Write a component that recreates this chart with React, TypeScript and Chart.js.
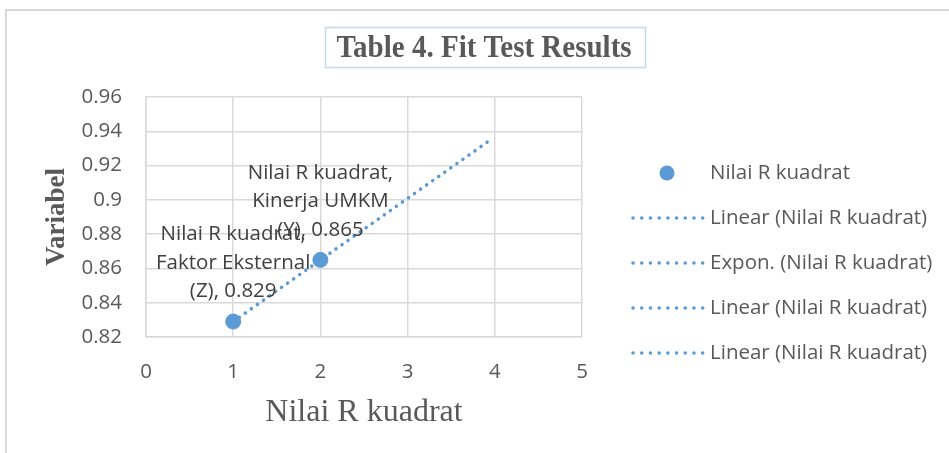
import React, { useEffect, useRef } from 'react';
import { Chart, registerables } from 'chart.js';

Chart.register(...registerables);

// ---- data ----
const pointX = [1, 2];
const pointY = [0.829, 0.865];
const pointNames = [
  ['Nilai R kuadrat,', 'Faktor Eksternal', '(Z)'],
  ['Nilai R kuadrat,', 'Kinerja UMKM', '(Y)'],
];
const trendX = [1, 3.95];
const trendY = [0.829, 0.935];
const xRange = [0, 5];
const xStep = 1;
const yRange = [0.82, 0.96];
const yStep = 0.02;
const legendLabels = [
  'Nilai R kuadrat',
  'Linear (Nilai R kuadrat)',
  'Expon. (Nilai R kuadrat)',
  'Linear (Nilai R kuadrat)',
  'Linear (Nilai R kuadrat)',
];
const chartTitle = 'Table 4. Fit Test Results';
const xTitle = 'Nilai R kuadrat';
const yTitle = 'Variabel';

const BLUE = '#5B9BD5';
const TEXT = '#595959';
const GRID = '#d9d9d9';
const SANS = "'Open Sans', 'Noto Sans', sans-serif";
const SERIF = "'Liberation Serif', 'Times New Roman', serif";

const decor = {
  id: 'decor',
  beforeDraw(chart: any) {
    const ctx = chart.ctx;
    ctx.save();
    // outer frame
    ctx.strokeStyle = GRID;
    ctx.lineWidth = 2;
    ctx.beginPath();
    ctx.moveTo(6, 460);
    ctx.lineTo(6, 10);
    ctx.lineTo(960, 10);
    ctx.stroke();
    // title box
    ctx.strokeStyle = '#c6d8ec';
    ctx.lineWidth = 1.5;
    ctx.strokeRect(325.5, 27.5, 320, 40);
    // title
    ctx.fillStyle = TEXT;
    ctx.font = `bold 29px ${SERIF}`;
    ctx.textAlign = 'center';
    ctx.textBaseline = 'alphabetic';
    ctx.save();
    ctx.translate(484, 57);
    ctx.scale(1.0, 1.06);
    ctx.fillText(chartTitle, 0, 0);
    ctx.restore();
    ctx.restore();
  },
  afterDatasetsDraw(chart: any) {
    const ctx = chart.ctx;
    const xs = chart.scales.x;
    const ys = chart.scales.y;
    ctx.save();
    ctx.fillStyle = '#404040';
    ctx.font = `20.5px ${SANS}`;
    ctx.textAlign = 'center';
    ctx.textBaseline = 'middle';
    pointX.forEach((xv, i) => {
      const px = xs.getPixelForValue(xv);
      const py = ys.getPixelForValue(pointY[i]);
      const lines = pointNames[i].slice();
      lines[lines.length - 1] = lines[lines.length - 1] + ', ' + pointY[i];
      const n = lines.length;
      lines.forEach((t, j) => {
        ctx.fillText(t, px, py - 30 - 28.5 * (n - 1 - j));
      });
    });
    ctx.restore();
  },
  afterDraw(chart: any) {
    const ctx = chart.ctx;
    ctx.save();
    ctx.font = `20.5px ${SANS}`;
    ctx.textAlign = 'left';
    ctx.textBaseline = 'middle';
    legendLabels.forEach((label, i) => {
      const y = 173 + 45 * i;
      if (i === 0) {
        ctx.fillStyle = BLUE;
        ctx.beginPath();
        ctx.arc(667, y, 7.5, 0, Math.PI * 2);
        ctx.fill();
      } else {
        ctx.strokeStyle = BLUE;
        ctx.lineWidth = 3.5;
        ctx.lineCap = 'round';
        ctx.setLineDash([0.1, 8.6]);
        ctx.beginPath();
        ctx.moveTo(633, y);
        ctx.lineTo(703, y);
        ctx.stroke();
        ctx.setLineDash([]);
      }
      ctx.fillStyle = TEXT;
      ctx.fillText(label, 710, y);
    });
    ctx.restore();
  },
};

export default function App() {
  const ref = useRef<HTMLCanvasElement>(null);
  useEffect(() => {
    document.body.style.margin = '0';
    const chart = new Chart(ref.current as HTMLCanvasElement, {
      type: 'scatter',
      data: {
        datasets: [
          {
            label: legendLabels[0],
            data: pointX.map((x, i) => ({ x, y: pointY[i] })),
            backgroundColor: BLUE,
            borderColor: BLUE,
            pointRadius: 7.5,
            pointHoverRadius: 7.5,
          },
          {
            type: 'line',
            label: legendLabels[1],
            data: trendX.map((x, i) => ({ x, y: trendY[i] })),
            borderColor: BLUE,
            borderWidth: 3.5,
            borderDash: [0.1, 7.3],
            borderCapStyle: 'round',
            pointRadius: 0,
            showLine: true,
            fill: false,
          } as any,
        ],
      },
      options: {
        animation: false,
        responsive: false,
        maintainAspectRatio: false,
        layout: { padding: { top: 97, right: 367, left: 0, bottom: 0 } },
        plugins: { legend: { display: false }, title: { display: false }, tooltip: { enabled: false } },
        scales: {
          x: {
            type: 'linear',
            min: xRange[0],
            max: xRange[1],
            ticks: { stepSize: xStep, color: TEXT, font: { family: SANS, size: 20.5 }, padding: 23 },
            grid: { color: GRID, lineWidth: 1.5, drawTicks: false },
            border: { color: GRID, width: 1.5 },
            title: {
              display: true,
              text: xTitle,
              color: TEXT,
              font: { family: SERIF, size: 32, weight: 'normal' },
              padding: { top: 0, bottom: 21 },
            },
            afterFit: (s: any) => { s.height = 116; },
          },
          y: {
            type: 'linear',
            min: yRange[0],
            max: yRange[1],
            ticks: {
              stepSize: yStep,
              color: TEXT,
              font: { family: SANS, size: 20.5 },
              padding: 24,
              callback: (v: any) => String(+Number(v).toFixed(2)),
            },
            grid: { color: GRID, lineWidth: 1.5, drawTicks: false },
            border: { color: GRID, width: 1.5 },
            title: {
              display: true,
              text: yTitle,
              color: TEXT,
              font: { family: SERIF, size: 27, weight: 'bold' },
              padding: { top: 41, bottom: 0 },
            },
            afterFit: (s: any) => { s.width = 146; },
          },
        },
      },
      plugins: [decor],
    } as any);
    return () => chart.destroy();
  }, []);
  return (
    <div style={{ width: 949, height: 453 }}>
      <canvas ref={ref} width={949} height={453} style={{ width: 949, height: 453, display: 'block' }} />
    </div>
  );
}
